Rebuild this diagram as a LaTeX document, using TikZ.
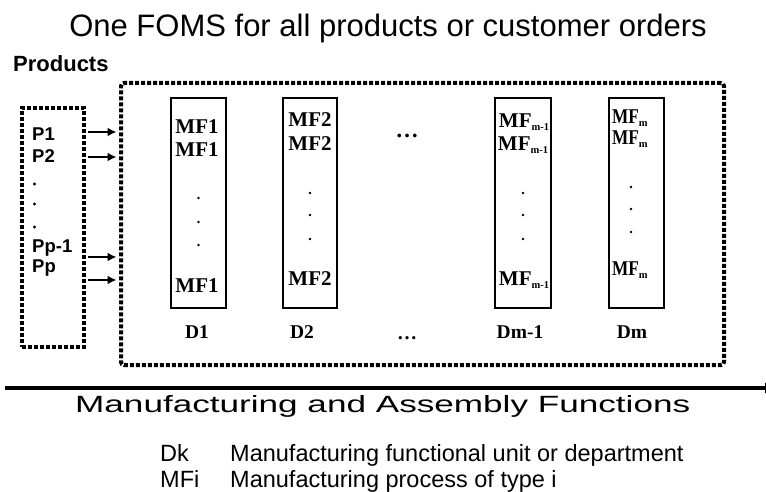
\documentclass[tikz,border=0pt]{standalone}
\usepackage{fontspec}
\usepackage{graphicx}
\setmainfont{Liberation Serif}
\newfontfamily\arial{Liberation Sans}
\usetikzlibrary{arrows.meta}
\newcommand{\subm}[1]{\raisebox{-3pt}{\fontsize{10.5}{10.5}\selectfont #1}}
\begin{document}
\begin{tikzpicture}[x=1pt,y=-1pt,
  dotbox/.style={draw, line width=4pt, dash pattern=on 4pt off 2pt, inner sep=0},
  dept/.style={draw, line width=1.6pt, inner sep=0, minimum height=210pt},
  lbl/.style={inner sep=0, anchor=base west},
  ctr/.style={inner sep=0, anchor=base},
  mf/.style={font=\fontsize{21}{21}\selectfont\bfseries},
  dl/.style={font=\fontsize{19.5}{19.5}\selectfont\bfseries},
  plbl/.style={lbl, font=\arial\bfseries\fontsize{18.5}{18.5}\selectfont},
  arr/.style={line width=2pt, -{Latex[length=9pt,width=9pt]}},
  pt/.style={fill, circle, inner sep=0, minimum size=2.8pt},
  legend/.style={lbl, font=\arial\fontsize{23.5}{23.5}\selectfont}
]
\useasboundingbox (0,0) rectangle (766,492);

% title
\node[ctr] (title) at (388,37) {\arial\fontsize{31}{31}\selectfont One FOMS for all products or customer orders};
\node[lbl] (prodlbl) at (13,72) {\arial\bfseries\fontsize{22}{22}\selectfont Products};

% boxes
\node[dotbox, minimum width=62pt, minimum height=239pt] (prodbox) at (53,227.5) {};
\node[dotbox, rounded corners=3pt, minimum width=603pt, minimum height=282pt] (foms) at (422.5,224) {};

% product labels
\node[plbl] (p1) at (32,141) {P1};
\node[plbl] (p2) at (32,163) {P2};
\node[pt, minimum size=3.2pt] (pd1) at (34.5,184) {};
\node[pt, minimum size=3.2pt] (pd2) at (34.5,204) {};
\node[pt, minimum size=3.2pt] (pd3) at (34.5,227) {};
\node[plbl] (pp1) at (32,252) {Pp-1};
\node[plbl] (pp) at (32,272) {Pp};

% arrows
\coordinate (y1) at (0,132);
\coordinate (y2) at (0,157);
\coordinate (y3) at (0,257);
\coordinate (y4) at (0,280);
\foreach \c in {y1,y2,y3,y4}
  \draw[arr, shorten <=2pt, shorten >=2.5pt] (prodbox.east |- \c) -- (foms.west |- \c);

% departments
\node[dept, minimum width=55pt] (d1) at (198.5,203) {};
\node[dept, minimum width=54pt] (d2) at (310,203) {};
\node[dept, minimum width=56pt] (d3) at (523,203) {};
\node[dept, minimum width=55pt] (d4) at (636.5,203) {};

% D1
\node[ctr, mf] (m1a) at (197,134) {MF1};
\node[ctr, mf] (m1b) at (197,157) {MF1};
\node[pt] at (198.5,198) {};
\node[pt] at (198.5,222) {};
\node[pt] at (198.5,245) {};
\node[ctr, mf] (m1c) at (197,292) {MF1};
% D2
\node[ctr, mf] (m2a) at (310,127) {MF2};
\node[ctr, mf] (m2b) at (310,150) {MF2};
\node[pt] at (310,193) {};
\node[pt] at (310,215) {};
\node[pt] at (310,239) {};
\node[ctr, mf] (m2c) at (310,285) {MF2};
% Dm-1
\node[ctr, mf] (m3a) at (524,128) {MF\subm{m-1}};
\node[ctr, mf] (m3b) at (523,150) {MF\subm{m-1}};
\node[pt] at (523,193) {};
\node[pt] at (523,215) {};
\node[pt] at (523,239) {};
\node[ctr, mf] (m3c) at (524,285) {MF\subm{m-1}};
% Dm
\node[lbl, mf] (m4a) at (612,124) {\scalebox{0.82}[1]{MF}\subm{m}};
\node[lbl, mf] (m4b) at (612,145) {\scalebox{0.82}[1]{MF}\subm{m}};
\node[pt] at (631,187) {};
\node[pt] at (631,209) {};
\node[pt] at (631,232) {};
\node[lbl, mf] (m4c) at (612,275) {\scalebox{0.82}[1]{MF}\subm{m}};

% ellipses
\node[ctr, font=\fontsize{23}{23}\selectfont\bfseries] (ell1) at (407,138) {…};
\node[ctr, font=\fontsize{20}{20}\selectfont\bfseries] (ell2) at (407,339) {…};

% department labels
\node[ctr, dl] (l1) at (197,338) {D1};
\node[ctr, dl] (l2) at (302,338) {D2};
\node[ctr, dl] (l3) at (520,338) {Dm-1};
\node[ctr, dl] (l4) at (632,338) {Dm};

% axis
\coordinate (axs) at (5,388);
\coordinate (axe) at (773,388);
\draw[line width=4pt, -{Latex[length=8pt,width=12pt]}] (axs) -- (axe);
\node[lbl] (axlbl) at (75,412) {\resizebox{615pt}{\height}{\arial\fontsize{23.5}{23.5}\selectfont Manufacturing and Assembly Functions}};

% legend
\node[legend] (lk1) at (160,461) {Dk};
\node[legend] (lt1) at (230,461) {Manufacturing functional unit or department};
\node[legend] (lk2) at (160,487) {MFi};
\node[legend] (lt2) at (230,487) {Manufacturing process of type i};
\end{tikzpicture}
\end{document}
